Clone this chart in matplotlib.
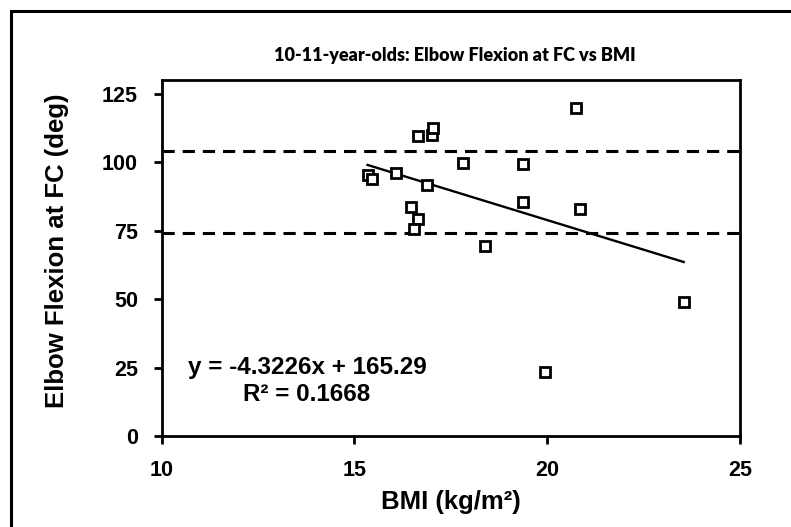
import matplotlib
matplotlib.use("Agg")
import matplotlib.pyplot as plt
from matplotlib.patches import Rectangle
import numpy as np

# BMI (kg/m^2) and elbow flexion at FC (deg)
bmi = [15.34, 15.45, 16.07, 16.64, 17.00, 17.05, 16.87, 17.82, 19.37,
       19.37, 16.46, 16.66, 16.54, 18.39, 20.75, 20.84, 23.54, 19.94]
flexion = [95.4, 93.7, 96.0, 109.4, 109.8, 112.5, 91.5, 99.8, 99.4,
           85.5, 83.6, 79.2, 75.7, 69.4, 119.8, 83.0, 48.9, 23.4]

# linear trendline as printed on the chart
slope = -4.3226
intercept = 165.29
r_squared = 0.1668

# reference band (dashed lines)
band_upper = 104
band_lower = 74

xticks = [10, 15, 20, 25]
yticks = [0, 25, 50, 75, 100, 125]

plt.rcParams['font.family'] = ['Liberation Sans', 'DejaVu Sans']
plt.rcParams['font.weight'] = 'bold'

fig = plt.figure(figsize=(7.91, 5.27), dpi=100)
ax = fig.add_axes([0.2044, 0.1727, 0.7311, 0.6755])

# outer chart-area border (only left/top edges fall inside the picture)
fig.add_artist(Rectangle((11 / 791, -0.1), 1.2, 1.1 - 11 / 527,
                         transform=fig.transFigure, fill=False,
                         edgecolor='black', linewidth=2.2))

ax.axhline(band_upper, color='black', lw=2.2, dashes=(4, 2.6))
ax.axhline(band_lower, color='black', lw=2.2, dashes=(4, 2.6))

ax.plot(bmi, flexion, linestyle='none', marker='s', markersize=6.5,
        markerfacecolor='white', markeredgecolor='black', markeredgewidth=2,
        zorder=3)

xfit = np.array([min(bmi), max(bmi)])
ax.plot(xfit, slope * xfit + intercept, color='black', lw=1.7, zorder=2)

ax.text(13.77, 24.9, 'y = %.4fx + %.2f' % (slope, intercept),
        ha='center', va='center', fontsize=17.5, fontweight='bold')
ax.text(13.77, 15.0, 'R² = %.4f' % r_squared,
        ha='center', va='center', fontsize=17.5, fontweight='bold')

ax.set_xlim(10, 25)
ax.set_ylim(0, 130)
ax.set_xticks(xticks)
ax.set_yticks(yticks)
ax.tick_params(axis='both', direction='out', length=6, width=2,
               labelsize=15.5, pad=11)
for lab in ax.get_xticklabels() + ax.get_yticklabels():
    lab.set_fontweight('bold')
for s in ax.spines.values():
    s.set_linewidth(2)

ax.set_xlabel('BMI (kg/m²)', fontsize=18.5, fontweight='bold')
ax.xaxis.set_label_coords(0.5, -0.152)
ax.set_ylabel('Elbow Flexion at FC (deg)', fontsize=18.5, fontweight='bold')
ax.yaxis.set_label_coords(-0.16, 0.52)

fig.text(455 / 791, 1 - 55 / 527, '10-11-year-olds: Elbow Flexion at FC vs BMI',
         ha='center', va='center', fontsize=13, fontweight='heavy',
         family=['Lato', 'DejaVu Sans'])

fig.savefig('out.png', dpi=100)
